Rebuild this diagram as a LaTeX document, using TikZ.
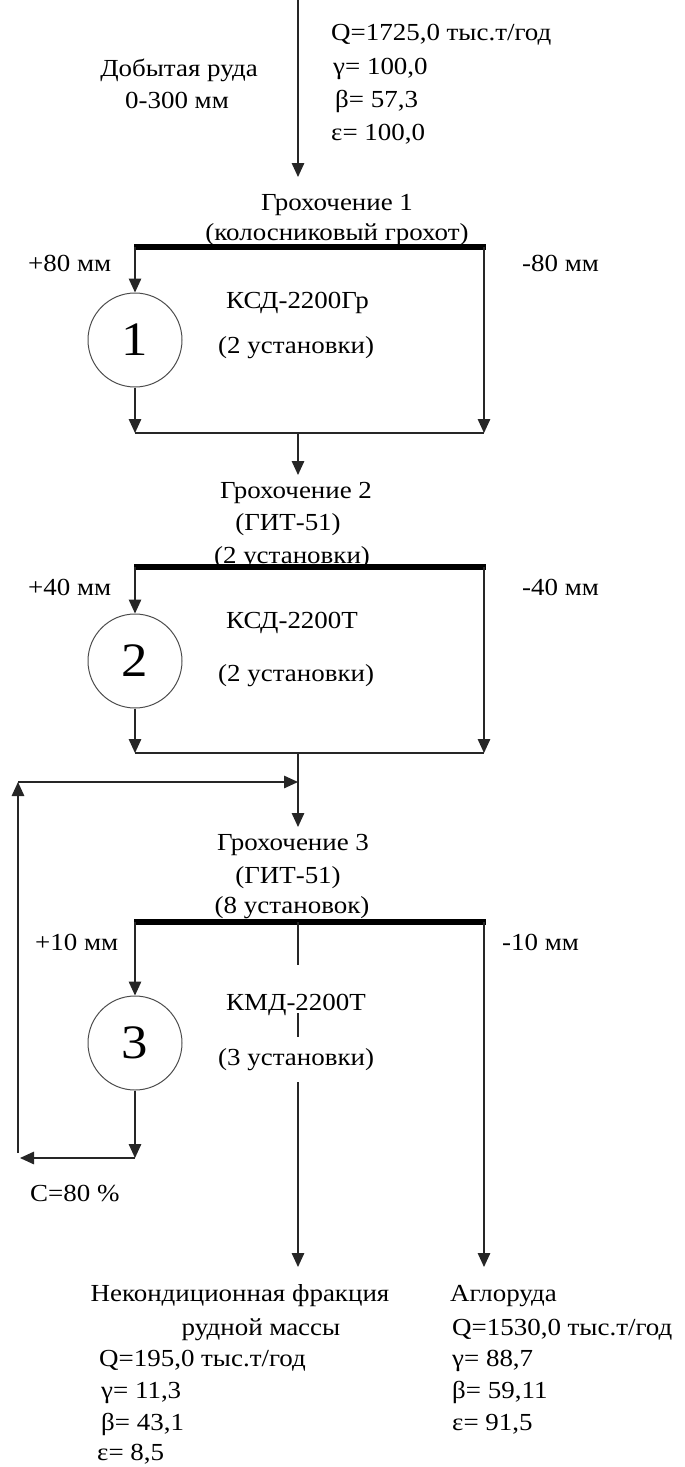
\documentclass[tikz,border=0pt]{standalone}
\usepackage{fontspec}
\setmainfont{Liberation Serif}[FakeStretch=1.1]
\usetikzlibrary{arrows.meta}
\begin{document}
\begin{tikzpicture}[x=1pt,y=1pt,
  ln/.style={line width=1.4pt, draw=black!85},
  arr/.style={ln, -{Triangle[length=14pt,width=12.5pt]}},
  barst/.style={line width=6.5pt, draw=black},
  circ/.style={circle, draw=black!70, line width=1pt, minimum size=94pt, inner sep=0pt, font=\fontsize{48}{48}\selectfont},
  t/.style={font=\fontsize{24.5}{32}\selectfont, inner sep=0pt, text=black},
  tl/.style={t, anchor=base west},
  tc/.style={t, anchor=base}]
\useasboundingbox (0,0) rectangle (685,-1467);
% ---------- input ----------
\coordinate (in0) at (298,0);
\coordinate (in1) at (298,-177);
\draw[arr] (in0) -- (in1);
\node[tc] (ore1) at (179,-76) {Добытая руда};
\node[tc] (ore2) at (177,-108) {0-300 мм};
\node[tl] (q0) at (331,-40) {Q=1725,0 тыс.т/год};
\node[tl] (g0) at (333,-74) {γ= 100,0};
\node[tl] (b0) at (335,-107) {β= 57,3};
\node[tl] (e0) at (331,-140) {ε= 100,0};
% ---------- block 1 ----------
\node[tc] (s1a) at (337,-210) {Грохочение 1};
\node[tc] (s1b) at (337,-240) {(колосниковый грохот)};
\coordinate (b1L) at (135,-247);
\coordinate (b1C) at (298,-247);
\coordinate (b1R) at (484,-247);
\draw[barst] ([xshift=-0.7pt]b1L) -- ([xshift=2pt]b1R);
\node[tl] (p80) at (28,-271) {+80 мм};
\node[tl] (m80) at (522,-271) {-80 мм};
\node[circ] (c1) at (135,-340) {1};
\node[tl] (k1a) at (226,-308) {КСД-2200Гр};
\node[tl] (k1b) at (218,-353) {(2 установки)};
\coordinate (h1L) at (135,-433);
\coordinate (h1C) at (298,-433);
\coordinate (h1R) at (484,-433);
\draw[arr] (b1L) -- (c1.north);
\draw[arr] (c1.south) -- (h1L);
\draw[arr] (b1R) -- (h1R);
\draw[ln] (h1L) -- (h1R);
\coordinate (in2) at (298,-475);
\draw[arr] (h1C) -- (in2);
% ---------- block 2 ----------
\node[tc] (s2a) at (296,-498) {Грохочение 2};
\node[tc] (s2b) at (288,-530) {(ГИТ-51)};
\node[tc] (s2c) at (292,-563) {(2 установки)};
\coordinate (b2L) at (135,-567);
\coordinate (b2R) at (484,-567);
\draw[barst] ([xshift=-0.7pt]b2L) -- ([xshift=2pt]b2R);
\node[tl] (p40) at (28,-595) {+40 мм};
\node[tl] (m40) at (522,-595) {-40 мм};
\node[circ] (c2) at (135,-661) {2};
\node[tl] (k2a) at (226,-628) {КСД-2200Т};
\node[tl] (k2b) at (218,-681) {(2 установки)};
\coordinate (h2L) at (135,-753);
\coordinate (h2C) at (298,-753);
\coordinate (h2R) at (484,-753);
\draw[arr] (b2L) -- (c2.north);
\draw[arr] (c2.south) -- (h2L);
\draw[arr] (b2R) -- (h2R);
\draw[ln] (h2L) -- (h2R);
\coordinate (in3) at (298,-827);
\coordinate (rj) at (298,-782);
\draw[arr] (h2C) -- (in3);
% ---------- recycle ----------
\coordinate (rL1) at (18,-1153);
\coordinate (rL2) at (18,-782);
\draw[arr] (rL1) -- (rL2);
\draw[arr] (rL2) -- (rj);
% ---------- block 3 ----------
\node[tc] (s3a) at (293,-850) {Грохочение 3};
\node[tc] (s3b) at (288,-883) {(ГИТ-51)};
\node[tc] (s3c) at (292,-913) {(8 установок)};
\coordinate (b3L) at (135,-922);
\coordinate (b3C) at (298,-922);
\coordinate (b3R) at (484,-922);
\draw[barst] ([xshift=-0.7pt]b3L) -- ([xshift=2pt]b3R);
\node[tl] (p10) at (35,-950) {+10 мм};
\node[tl] (m10) at (502,-950) {-10 мм};
\node[circ] (c3) at (135,-1043) {3};
\node[tl] (k3a) at (226,-1010) {КМД-2200Т};
\node[tl] (k3b) at (218,-1065) {(3 установки)};
\coordinate (h3L) at (135,-1158);
\coordinate (h3E) at (20,-1158);
\draw[arr] (b3L) -- (c3.north);
\draw[arr] (c3.south) -- (h3L);
\draw[arr] (h3L) -- (h3E);
\node[tl] (cc) at (30,-1201) {C=80 \%};
\coordinate (o1) at (298,-1267);
\coordinate (o2) at (484,-1267);
\draw[arr, dash pattern=on 43pt off 48pt on 24pt off 45pt on 600pt off 0pt] (b3C) -- (o1);
\draw[arr] (b3R) -- (o2);
% ---------- outputs ----------
\node[tc] (n1) at (240,-1301) {Некондиционная фракция};
\node[tc] (n2) at (261,-1335) {рудной массы};
\node[tl] (n3) at (99,-1366) {Q=195,0 тыс.т/год};
\node[tl] (n4) at (101,-1398) {γ= 11,3};
\node[tl] (n5) at (101,-1430) {β= 43,1};
\node[tl] (n6) at (97,-1460) {ε= 8,5};
\node[tl] (a1) at (450,-1301) {Аглоруда};
\node[tl] (a2) at (452,-1335) {Q=1530,0 тыс.т/год};
\node[tl] (a3) at (452,-1366) {γ= 88,7};
\node[tl] (a4) at (452,-1398) {β= 59,11};
\node[tl] (a5) at (452,-1430) {ε= 91,5};
\end{tikzpicture}
\end{document}
